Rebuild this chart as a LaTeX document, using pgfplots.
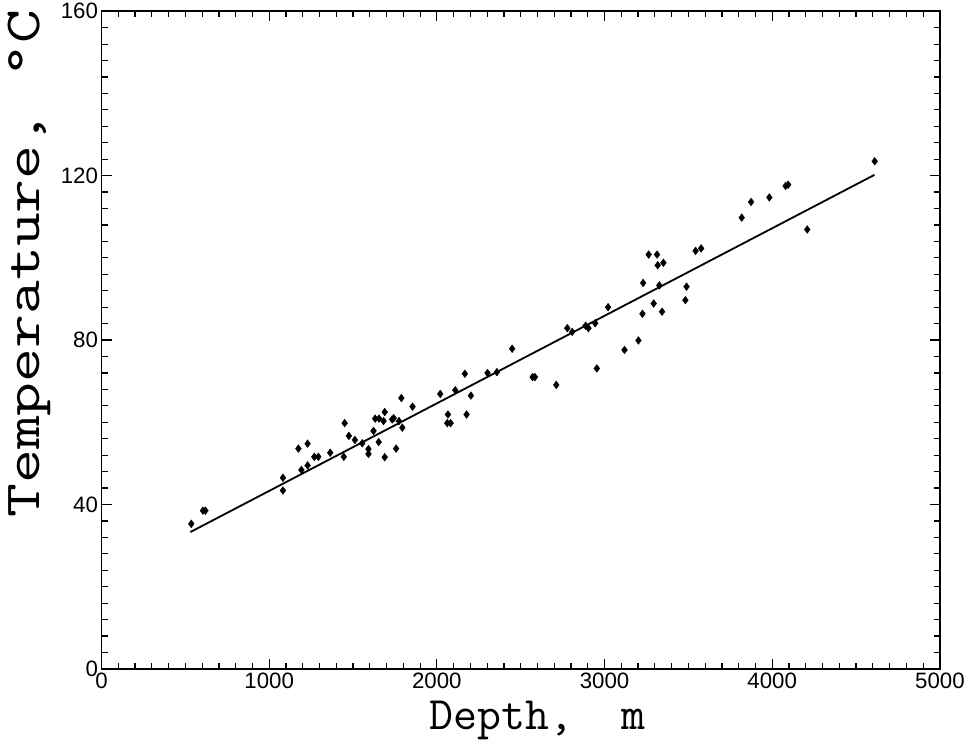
\documentclass[border=0pt]{standalone}
\usepackage{fontspec}
\setsansfont{Liberation Sans}
\usepackage{pgfplots}
\pgfplotsset{compat=1.18}

% temperature readings vs depth
\pgfplotstableread{
x y
535 35.3
605 38.5
620 38.5
1082 46.5
1082 43.4
1174 53.6
1192 48.4
1229 54.8
1229 49.5
1269 51.6
1293 51.6
1364 52.6
1445 51.6
1450 59.8
1475 56.7
1511 55.7
1555 54.9
1592 53.5
1592 52.3
1622 57.9
1632 60.9
1655 60.9
1682 60.3
1653 55.2
1689 62.5
1689 51.5
1733 60.7
1743 61.0
1774 60.3
1757 53.6
1794 58.7
1788 65.9
1855 63.8
2020 66.9
2066 61.9
2062 59.8
2082 59.8
2110 67.8
2167 71.8
2177 61.9
2203 66.5
2302 72.0
2358 72.2
2449 77.9
2571 71.0
2585 71.0
2712 69.1
2778 82.9
2807 82.0
2887 83.5
2904 82.9
2944 84.1
2954 73.1
3021 88.0
3119 77.6
3202 79.9
3226 86.4
3230 93.9
3263 100.8
3313 100.8
3317 98.2
3351 98.8
3293 88.9
3327 93.3
3343 86.9
3482 89.7
3489 93.0
3543 101.7
3576 102.3
3818 109.8
3874 113.6
3983 114.7
4080 117.5
4095 117.8
4209 106.9
4611 123.5
}\temps

\begin{document}
\begin{tikzpicture}[x=1bp,y=1bp]
  \begin{axis}[
    width=826bp, height=648bp,
    scale only axis,
    xmin=0, xmax=5000,
    ymin=0, ymax=160,
    xtick={0,1000,...,5000},
    ytick={0,40,...,160},
    minor x tick num=9,
    minor y tick num=9,
    tick align=inside,
    major tick length=10bp,
    minor tick length=6bp,
    every tick/.style={black, line width=1.2pt},
    axis line style={line width=1.6pt},
    tick label style={font=\fontsize{22}{22}\sffamily},
    /pgf/number format/assume math mode=true,
    /pgf/number format/1000 sep={},
    xlabel={Depth,\ \ m},
    ylabel={Temperature, °C},
    xlabel style={font=\fontsize{46}{46}\ttfamily, anchor=base,
      at={([yshift=-60bp]axis description cs:0.52,0)}},
    ylabel style={font=\fontsize{50}{50}\ttfamily, xscale=1.3,
      inner ysep=8bp,
      anchor=base, at={([xshift=-61bp]axis description cs:0,0.616)}},
  ]
    \addplot[only marks, mark=diamond*, mark size=3.8bp, black] table {\temps};
    % least squares fit
    \addplot[black, line width=1.8pt] coordinates {(530,33.3) (4610,120.2)};
  \end{axis}
\end{tikzpicture}
\end{document}
